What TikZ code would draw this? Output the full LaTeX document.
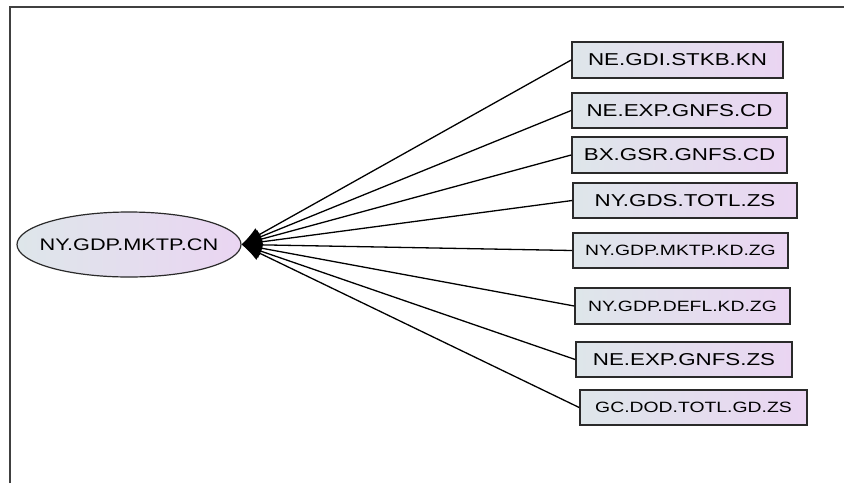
\documentclass[tikz,border=0pt]{standalone}
\usepackage{fontspec}
\newfontfamily\labelfont[FakeStretch=1.3]{Liberation Sans}
\usetikzlibrary{shapes.geometric,arrows.meta}
\definecolor{fillA}{HTML}{DEE6EA}
\definecolor{fillB}{HTML}{EAD5F2}
\definecolor{edgegray}{HTML}{2A2A2A}
\tikzset{
  var/.style={draw=edgegray, line width=1.6pt, left color=fillA, right color=fillB,
    rectangle, inner sep=0pt, text=black},
  big/.style={font=\labelfont\fontsize{17.2}{20}\selectfont},
  small/.style={font=\labelfont\fontsize{14.9}{18}\selectfont},
  target/.style={draw=edgegray, line width=1.2pt, ellipse, shading angle=60,
    left color=fillA, right color=fillB, inner ysep=0pt, inner xsep=-17pt,
    minimum width=224pt, minimum height=65pt,
    font=\labelfont\fontsize{16.7}{19}\selectfont},
  link/.style={draw=black, line width=1.3pt, -{Latex[length=20pt,width=15pt]}},
  frameline/.style={draw=black!75, line width=1.3pt}
}
\begin{document}
\begin{tikzpicture}[x=1pt, y=-1pt]
\useasboundingbox (0,0) rectangle (844,483);
\draw[frameline] (10,483) -- (10,7) -- (844,7);

\node[target] (e) at (129,244.5) {NY.GDP.MKTP.CN};

\node[var, big,   minimum width=211pt, minimum height=36pt] (b1) at (677.5,60)    {NE.GDI.STKB.KN};
\node[var, big,   minimum width=215pt, minimum height=35pt] (b2) at (679.5,110.5) {NE.EXP.GNFS.CD};
\node[var, big,   minimum width=215pt, minimum height=36pt] (b3) at (679.5,155)   {BX.GSR.GNFS.CD};
\node[var, big,   minimum width=224pt, minimum height=35pt] (b4) at (685,200.5)   {NY.GDS.TOTL.ZS};
\node[var, small, minimum width=215pt, minimum height=35pt] (b5) at (680.5,250.5) {NY.GDP.MKTP.KD.ZG};
\node[var, small, minimum width=215pt, minimum height=36pt] (b6) at (682.5,306)   {NY.GDP.DEFL.KD.ZG};
\node[var, big,   minimum width=216pt, minimum height=35pt] (b7) at (684,359.5)   {NE.EXP.GNFS.ZS};
\node[var, small, minimum width=227pt, minimum height=35pt] (b8) at (693.5,407.5) {GC.DOD.TOTL.GD.ZS};

\foreach \b in {b1,b2,b3,b4,b5,b6,b7,b8}
  \draw[link] (\b.west) -- (e.east);
\end{tikzpicture}
\end{document}
